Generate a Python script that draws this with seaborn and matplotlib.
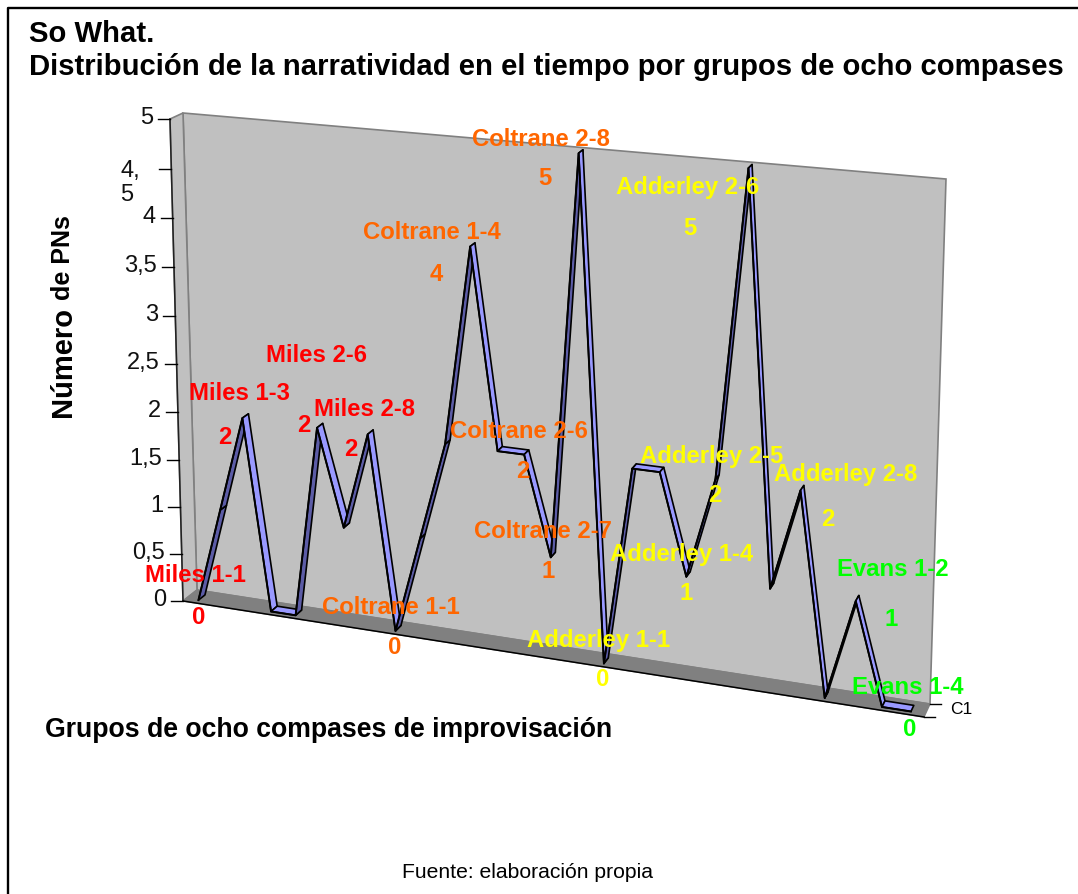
import numpy as np
import pandas as pd
import seaborn as sns
import matplotlib
matplotlib.use("Agg")
import matplotlib.pyplot as plt

# values, one per group of eight bars
values = [0, 1, 2, 0, 0, 2, 1, 2, 0, 1, 2, 4, 2, 2, 1, 5, 0, 2, 2, 1, 2, 5, 1, 2, 0, 1, 0, 0]
y_ticks = [0, 0.5, 1, 1.5, 2, 2.5, 3, 3.5, 4, 4.5, 5]
y_tick_labels = ["0", "0,5", "1", "1,5", "2", "2,5", "3", "3,5", "4", "4,\n5", "5"]

RED, ORANGE, YELLOW, GREEN = "#ff0000", "#ff6600", "#ffff00", "#00ff00"

names = ["Miles 1-1", "Miles 1-3", "Miles 2-6", "Miles 2-8",
         "Coltrane 1-1", "Coltrane 1-4", "Coltrane 2-6", "Coltrane 2-7", "Coltrane 2-8",
         "Adderley 1-1", "Adderley 1-4", "Adderley 2-5", "Adderley 2-6", "Adderley 2-8",
         "Evans 1-2", "Evans 1-4"]
name_vals = ["0", "2", "2", "2", "0", "4", "2", "1", "5", "0", "1", "2", "5", "2", "1", "0"]
name_cols = [RED] * 4 + [ORANGE] * 5 + [YELLOW] * 5 + [GREEN] * 2
name_pos = [(195, 575), (239, 394), (316, 355), (364, 409),
            (391, 607), (432, 232), (519, 431), (543, 532), (541, 139),
            (599, 641), (682, 554), (712, 456), (688, 187), (846, 475),
            (893, 570), (908, 688)]
val_pos = [(199, 617), (225, 438), (304, 426), (351, 450),
           (395, 647), (436, 274), (523, 471), (548, 572), (545, 178),
           (603, 680), (686, 593), (715, 496), (690, 228), (828, 520),
           (891, 619), (910, 729)]


def homography(corners):
    """unit square (s, t) -> pixel, from corners at (0,0) (1,0) (1,1) (0,1)"""
    (x0, y0), (x1, y1), (x2, y2), (x3, y3) = corners
    dx1, dx2, sx = x1 - x2, x3 - x2, x0 - x1 + x2 - x3
    dy1, dy2, sy = y1 - y2, y3 - y2, y0 - y1 + y2 - y3
    g, h = np.linalg.solve([[dx1, dx2], [dy1, dy2]], [sx, sy])
    return np.array([[x1 - x0 + g * x1, x3 - x0 + h * x3, x0],
                     [y1 - y0 + g * y1, y3 - y0 + h * y3, y0],
                     [g, h, 1]])


# chart box: back wall and front plane of the 3D view
back = homography([(197, 591), (930, 705), (946, 180), (183, 114)])
front = homography([(183, 602), (924, 718), (940, 188), (170, 120)])


def project(i, v, d):
    """category i, value v, depth d (0 front, 1 back) -> pixel"""
    p = np.array([(i + 0.5) / len(values), v / 5, 1.0])
    a, b = front @ p, back @ p
    a, b = a[:2] / a[2], b[:2] / b[2]
    return a + (b - a) * d


n = len(values)
fig = plt.figure(figsize=(10.78, 8.95), dpi=100)
ax = fig.add_axes([0, 0, 1, 1])
plt.rcParams["font.family"] = ["Liberation Sans", "DejaVu Sans"]

# outer frame
ax.plot([8, 8, 1078], [895, 9, 9], color="black", lw=1.7, solid_capstyle="butt")

# walls and floor
GREY, DARK = "#c0c0c0", "#808080"
wall = [project(-0.5, 0, 1), project(n - 0.5, 0, 1), project(n - 0.5, 5, 1), project(-0.5, 5, 1)]
side = [project(-0.5, 0, 0), project(-0.5, 0, 1), project(-0.5, 5, 1), project(-0.5, 5, 0)]
floor = [project(-0.5, 0, 0), project(n - 0.5, 0, 0), project(n - 0.5, 0, 1), project(-0.5, 0, 1)]
ax.fill(*zip(*wall), facecolor=GREY, edgecolor=DARK, lw=1.2)
ax.fill(*zip(*side), facecolor=GREY, edgecolor=DARK, lw=1.2)
ax.fill(*zip(*floor), facecolor=DARK, edgecolor=DARK, lw=1)

# dark axis edges
a, b = project(-0.5, 0, 0), project(-0.5, 5, 0)
ax.plot([a[0], b[0]], [a[1], b[1]], color="#222222", lw=1.1)
c = project(n - 0.5, 0, 0)
ax.plot([a[0], c[0]], [a[1], c[1]], color="black", lw=1.1)
d = project(n - 0.5, 0, 1)
ax.plot([c[0], c[0] + 11], [c[1], c[1]], color="black", lw=1)
ax.plot([d[0], d[0] + 11], [d[1], d[1]], color="black", lw=1)
ax.text(950, 710, "C1", fontsize=12.5, va="center", ha="left", color="black")

# value axis ticks and labels
for t, lab in zip(y_ticks, y_tick_labels):
    x0, y0 = project(-0.5, t, 0)
    ax.plot([x0 - 12, x0], [y0, y0], color="black", lw=1)
    if lab == "4,\n5":
        ax.text(x0 - 51, y0 + 13, lab, fontsize=17, ha="left", va="center", linespacing=1.1, color="#111111")
    else:
        ax.text(x0 - 17, y0 - 2, lab, fontsize=17, ha="right", va="center", color="#111111")

# ribbon, one quad per segment, rising ones in shadow
D0, D1 = 0.25, 0.72
for i in range(n - 1):
    quad = [project(i, values[i], D0), project(i + 1, values[i + 1], D0),
            project(i + 1, values[i + 1], D1), project(i, values[i], D1)]
    col = "#5c5ca6" if values[i + 1] > values[i] else "#9999ff"
    ax.fill(*zip(*quad), facecolor=col, edgecolor="black", lw=1.2, joinstyle="round")

line = pd.DataFrame([project(i, v, D0) for i, v in enumerate(values)], columns=["x", "y"])
sns.lineplot(data=line, x="x", y="y", ax=ax, color="black", lw=1.4, sort=False, estimator=None, legend=False)
ax.set_xlim(0, 1078)
ax.set_ylim(895, 0)
ax.axis("off")

# data labels
for name, val, col, p, q in zip(names, name_vals, name_cols, name_pos, val_pos):
    ax.text(p[0], p[1], name, color=col, fontsize=17.2, fontweight="bold", ha="center", va="center")
    ax.text(q[0], q[1], val, color=col, fontsize=17.2, fontweight="bold", ha="center", va="center")

# titles
ax.text(29, 34, "So What.", fontsize=21.1, fontweight="bold", ha="left", va="center", color="black")
ax.text(29, 67, "Distribución de la narratividad en el tiempo por grupos de ocho compases",
        fontsize=21.1, fontweight="bold", ha="left", va="center", color="black")
ax.text(63, 417, "Número", fontsize=21, fontweight="bold", rotation=90, ha="center", va="bottom", color="black")
ax.text(63, 300, "de PNs", fontsize=18, fontweight="bold", rotation=90, ha="center", va="bottom", color="black")
ax.text(45, 730, "Grupos de ocho compases de improvisación", fontsize=19.2, fontweight="bold",
        ha="left", va="center", color="black")
ax.text(527, 873, "Fuente: elaboración propia", fontsize=15.2, ha="center", va="center", color="black")

fig.savefig("out.png", dpi=100)
